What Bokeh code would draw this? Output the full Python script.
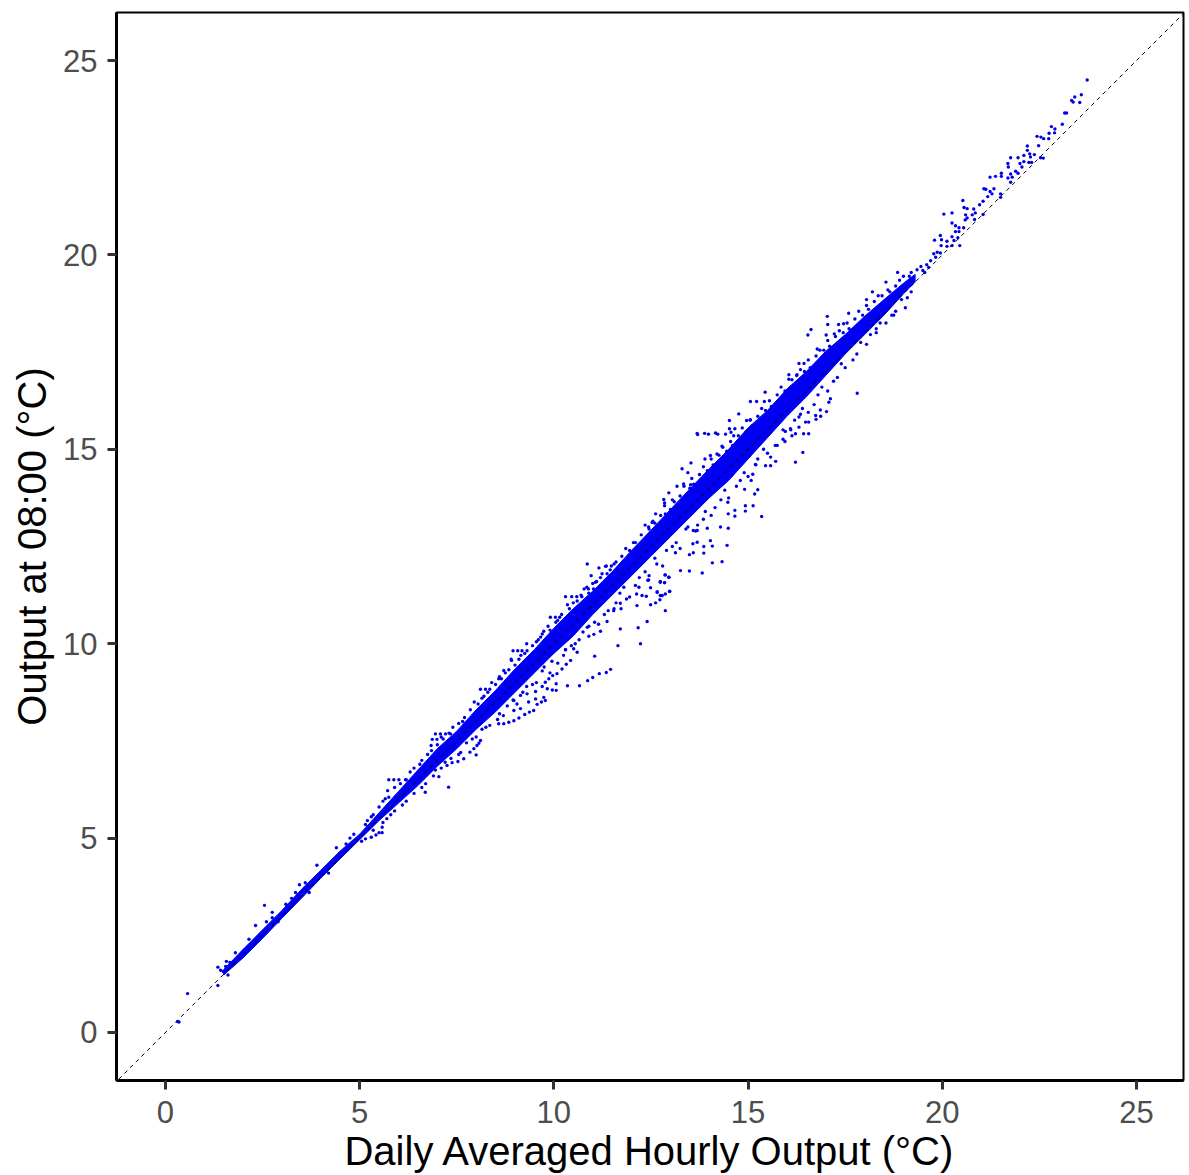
from bokeh.plotting import figure
from bokeh.embed import file_html
from bokeh.resources import INLINE
from bokeh.models import FixedTicker, Range1d

x_ticks = [0, 5, 10, 15, 20, 25]
y_ticks = [0, 5, 10, 15, 20, 25]
x_title = "Daily Averaged Hourly Output (°C)"
y_title = "Output at 08:00 (°C)"
ref_line = [-1.2, 26.2]

# Outline of the solid, overplotted core of the cloud
core_upper = [(1.5,1.62),(2,2.14),(2.5,2.64),(3,3.14),(3.5,3.68),(4,4.17),(4.5,4.67),(5,5.1),(5.5,5.65),(6,6.2),(6.5,6.75),(7,7.3),(7.5,7.75),(8,8.3),(8.5,8.8),(9,9.35),(9.5,9.85),(10,10.4),(10.5,10.9),(11,11.35),(11.5,11.85),(12,12.4),(12.5,12.92),(13,13.45),(13.5,13.98),(14,14.5),(14.5,15.0),(15,15.55),(15.5,16.0),(16,16.55),(16.5,17.0),(17,17.52),(17.5,17.95),(18,18.42),(18.5,18.85),(19,19.27),(19.3,19.5)]
core_lower = [(19.3,19.3),(19,19.0),(18.5,18.45),(18,17.95),(17.5,17.45),(17,16.9),(16.5,16.35),(16,15.85),(15.5,15.3),(15,14.75),(14.5,14.2),(14,13.75),(13.5,13.25),(13,12.75),(12.5,12.25),(12,11.75),(11.5,11.25),(11,10.75),(10.5,10.2),(10,9.75),(9.5,9.25),(9,8.75),(8.5,8.25),(8,7.8),(7.5,7.3),(7,6.85),(6.5,6.35),(6,5.9),(5.5,5.45),(5,4.96),(4.5,4.47),(4,3.97),(3.5,3.45),(3,2.94),(2.5,2.42),(2,1.92),(1.5,1.48)]

low_pts = [(.57,1.0),(.31,.28),(.35,.27),(1.35,1.21),(1.61,1.48),(1.35,1.68),(1.42,1.6),(1.49,1.57),(1.57,1.83),(1.66,1.8),(1.55,1.7),(2.55,3.27),(2.75,3.09),(2.32,2.75),(1.8,2.05),(2.15,2.4),(2.6,2.85),(3.1,3.3),(3.45,3.8),(3.9,4.3),(4.4,4.75),(5.05,4.92),(5.15,4.98),(5.3,5.02),(5.42,5.08),(5.5,5.14),(5.58,5.28),(5.58,5.14),(5.7,5.5),(2.9,2.85),(3.7,3.6),(4.2,4.1),(3.25,3.45),(3.35,3.6),(3.6,3.85),(4.75,5.0),(4.85,5.1),(4.65,4.85),(5.3,5.55),(2.75,2.95)]

streak_pts = [(5.75,6.5),(5.88,6.5),(6.01,6.5),(6.18,6.5),(5.72,6.22),(5.66,6.01),(6.95,7.68),(7.08,7.68),(7.21,7.68),(7.34,7.68),(6.87,7.54),(6.99,7.54),(6.84,7.38),(8.11,8.83),(8.24,8.83),(8.35,8.83),(8.58,9.1),(8.71,9.31),(8.84,9.33),(8.91,9.57),(8.95,9.82),(9.07,9.82),(9.18,9.82),(9.31,9.82),(9.66,10.17),(9.74,10.32),(9.91,10.68),(10.04,10.68),(10.15,10.68),(10.3,11.21),(10.46,11.21),(10.59,11.21),(10.72,11.21),(10.78,11.41),(10.89,11.41),(11.02,11.41),(10.86,12.05),(11.16,11.95),(11.33,11.99),(11.48,12.0),(10.96,11.75),(11.07,11.58),(11.24,11.8),(11.37,11.8)]

arc_pts = [(7.29,6.31),(7.04,6.58),(6.69,6.18),(8.0,7.14),(7.84,7.21),(7.94,7.3),(7.68,7.04),(7.53,6.97),(7.38,6.94),(7.25,6.87),(8.11,7.51),(8.07,7.44),(8.02,7.38),(8.58,7.94),(8.71,7.94),(8.84,7.98),(8.97,8.02),(9.1,8.09),(9.25,8.18),(9.37,8.24),(9.48,8.28),(9.57,8.44),(9.68,8.5),(9.78,8.54),(8.97,8.28),(9.14,8.33),(9.35,8.5),(9.53,8.58),(9.31,8.71),(9.14,8.67),(8.97,8.54),(9.53,8.77),(9.74,8.62),(9.83,8.84),(10.06,8.97),(10.06,8.8),(9.96,8.81),(9.7,8.9),(9.78,9.01),(9.87,9.1),(9.97,9.18),(10.08,9.23),(10.21,9.35),(10.32,9.47),(10.43,9.57),(11.05,9.68),(11.65,9.95),(10.35,8.92),(10.66,8.92),(10.87,9.05),(11.0,9.13),(11.17,9.23),(11.35,9.26),(11.46,9.34),(12.23,10.0),(12.17,10.41),(11.71,10.38),(12.4,10.57),(11.37,10.57),(10.86,10.42),(11.03,10.24),(11.2,10.32),(10.9,10.19),(10.6,9.78),(10.51,9.87),(10.3,9.84),(12.87,10.85),(12.49,11.0),(12.62,11.05),(12.73,11.13),(12.14,10.98),(12.13,11.28),(12.27,11.24),(12.38,11.22),(12.66,11.32),(12.79,11.24),(12.98,11.35),(12.87,11.77),(12.96,11.71),(12.74,11.58),(12.85,11.57),(12.44,11.64),(12.19,11.45),(11.87,11.15),(11.71,11.04),(11.54,10.85),(11.73,10.9)]

mid_pts = [(19.05,18.64),(17.04,18.42),(17.05,18.21),(16.62,18.08),(16.54,17.94),(17.01,17.94),(17.59,18.5),(17.46,18.23),(17.33,18.21),(17.22,17.97),(16.78,17.58),(16.31,17.21),(16.44,17.21),(16.05,16.92),(16.26,16.92),(16.13,16.79),(15.44,16.47),(15.06,16.23),(15.22,16.23),(15.42,16.23),(14.76,15.91),(14.52,15.74),(14.96,15.74),(15.06,15.76),(13.69,15.41),(13.7,15.38),(13.88,15.41),(13.98,15.39),(14.16,15.42),(14.22,15.39),(14.42,15.39),(14.52,15.53),(14.66,15.53),(14.56,15.44),(14.63,15.35),(17.81,16.44),(17.12,16.3),(17.08,16.21),(16.86,16.01),(17.02,15.97),(16.74,15.87),(16.87,15.85),(16.75,15.77),(16.56,15.7),(16.48,15.7),(16.31,15.83),(16.56,15.4),(16.43,15.4),(16.22,15.4),(16.13,15.35),(16.31,15.57),(16.09,15.53),(15.9,15.26),(15.96,15.46),(16.41,14.92),(16.22,14.67),(15.71,14.69),(15.58,14.8),(15.45,14.58),(15.58,14.58),(15.19,14.61),(15.12,14.36),(15.08,14.2),(15.25,13.96),(15.17,13.85),(14.91,13.97),(15.13,13.55),(14.93,13.55),(14.93,13.41),(14.66,13.43),(14.66,13.28),(15.35,13.27),(14.49,13.34),(14.49,12.97),(14.29,13.0),(14.48,13.64),(14.46,12.53),(14.03,12.65),(14.08,12.51),(13.86,12.5),(13.69,12.61),(13.58,12.57),(13.86,12.33),(13.59,12.34),(13.49,12.29),(14.33,12.11),(14.08,12.08),(13.82,11.82),(13.49,11.87),(13.26,11.88),(13.13,12.34),(13.95,12.97),(13.69,12.91),(13.59,12.91),(12.96,11.71),(12.86,11.77),(12.74,11.6),(12.85,11.57),(12.98,11.34),(12.87,11.28),(12.66,11.34),(12.74,11.24),(12.49,11.44),(12.42,11.63),(13.3,14.5),(13.53,14.65),(13.45,14.4),(12.96,13.88),(13.17,14.05),(13.34,14.11),(13.52,14.09),(12.83,13.71),(12.85,13.62),(12.62,13.34),(12.87,13.34),(12.53,13.12),(12.74,13.12),(12.44,13.0),(14.03,14.84),(14.2,14.88),(13.89,14.75),(14.33,15.08)]

top_pts = [(23.73,24.5),(23.58,24.12),(23.41,24.06),(23.33,23.97),(23.37,23.93),(23.54,23.92),(23.15,23.65),(23.2,23.65),(23.09,23.36),(22.81,23.3),(22.9,23.24),(22.89,23.14),(22.75,23.13),(22.44,23.05),(22.54,23.03),(22.61,22.99),(22.74,22.99),(22.48,22.81),(22.19,22.8),(22.19,22.69),(21.76,22.5),(21.95,22.5),(22.1,22.56),(22.25,22.6),(22.37,22.58),(22.27,22.52),(22.53,22.5),(22.6,22.49),(22.0,22.35),(22.1,22.4),(22.23,22.38),(22.3,22.38),(22.05,22.26),(21.69,22.35),(21.7,22.26),(21.52,22.1),(21.52,22.02),(21.37,22.02),(21.23,22.0),(21.76,22.08),(21.89,22.15),(21.95,22.1),(21.69,21.98),(21.8,22.0),(21.76,21.87),(21.07,21.7),(21.12,21.69),(21.33,21.7),(21.23,21.63),(21.28,21.57),(21.17,21.5),(21.5,21.57),(21.5,21.48),(20.53,21.4),(21.05,21.38),(20.96,21.29),(20.56,21.22),(20.64,21.19),(20.81,21.18),(20.04,21.05),(20.25,21.08),(20.77,21.03),(20.85,21.08),(20.6,21.03),(21.05,21.04),(20.59,20.9),(20.64,20.95),(20.83,20.91),(20.25,20.82),(20.34,20.75),(20.43,20.7),(20.55,20.7),(20.43,20.6),(20.34,20.6),(19.95,20.5),(19.8,20.38),(19.98,20.39),(20.25,20.47),(20.4,20.44),(20.12,20.35),(20.3,20.37),(20.45,20.24),(19.97,20.24),(20.12,20.22),(20.25,20.24),(19.87,20.07),(19.78,20.03),(19.95,20.05),(19.83,19.94),(19.5,19.6),(19.6,19.75),(19.7,19.85),(19.45,19.7),(19.35,19.62),(19.55,19.55),(19.65,19.68),(18.85,19.55),(18.55,19.3),(18.2,19.05),(18.05,18.85),(18.75,18.45),(18.3,18.0),(19.2,19.05)]

# Ragged fringe that hugs the core
fringe_pts = [(5.2,5.45),(5.6,5.95),(5.9,6.3),(6.3,6.7),(6.6,7.0),(6.85,7.25),(7.15,7.55),(7.4,7.85),(7.7,8.1),(7.95,8.5),(8.2,8.65),(8.4,9.0),(8.65,9.1),(8.9,9.6),(9.1,9.6),(9.3,10.0),(9.6,10.1),(9.85,10.45),(10.1,10.6),(10.35,11.0),(10.6,11.1),(10.85,11.45),(11.1,11.6),(11.35,12.0),(11.6,12.1),(11.85,12.45),(12.1,12.6),(12.35,13.05),(12.6,13.1),(12.85,13.55),(13.1,13.65),(13.35,14.05),(13.6,14.1),(13.85,14.55),(14.1,14.6),(14.35,15.05),(14.6,15.1),(14.85,15.55),(15.1,15.6),(15.35,16.05),(15.6,16.1),(15.85,16.6),(16.1,16.6),(16.35,17.05),(16.6,17.1),(16.85,17.55),(17.1,17.65),(17.35,18.05),(17.6,18.1),(17.85,18.55),(18.1,18.6),(18.35,18.95),(18.65,19.05),(18.9,19.35),(19.15,19.45),
(5.8,5.6),(6.2,5.95),(6.6,6.3),(6.9,6.6),(7.2,6.95),(7.6,7.2),(7.9,7.55),(8.25,7.85),(8.55,8.05),(8.8,8.4),(9.2,8.75),(9.45,8.95),(9.7,9.3),(9.95,9.55),(10.25,9.7),(10.55,10.0),(10.75,10.3),(11.05,10.55),(11.3,10.75),(11.6,11.05),(11.8,11.45),(12.1,11.5),(12.35,11.85),(12.65,12.05),(12.9,12.4),(13.15,12.6),(13.4,12.95),(13.7,13.05),(13.9,13.4),(14.15,13.5),(14.4,13.95),(14.7,14.05),(14.9,14.4),(15.2,14.6),(15.4,15.0),(15.7,15.1),(15.9,15.5),(16.2,15.75),(16.4,16.05),(16.7,16.15),(16.9,16.6),(17.2,16.75),(17.4,17.2),(17.7,17.3),(17.9,17.75),(18.15,17.95),(18.4,18.25),(18.7,18.45),(18.95,18.85)]

fringe_upper = [(5.15,5.35),(5.35,5.6),(5.5,5.8),(5.75,6.05),(6.05,6.4),(6.2,6.5),(6.4,6.8),(6.55,6.9),(6.75,7.15),(7.0,7.4),(7.1,7.6),(7.3,7.7),(7.55,7.95),(7.65,8.0),(7.85,8.3),(8.05,8.45),(8.15,8.6),(8.3,8.75),(8.5,8.95),(8.6,9.15),(8.75,9.25),(9.0,9.45),(9.15,9.7),(9.25,9.75),(9.45,9.95),(9.55,10.05),(9.7,10.25),(9.9,10.35),(10.05,10.55),(10.2,10.75),(10.4,10.9),(10.5,11.05),(10.7,11.25),(10.9,11.3),(11.0,11.55),(11.2,11.7),(11.45,11.9),(11.55,12.05),(11.75,12.25),(11.95,12.4),(12.05,12.6),(12.25,12.8),(12.45,12.95),(12.55,13.15),(12.75,13.3),(13.0,13.45),(13.05,13.7),(13.25,13.8),(13.5,14.0),(13.55,14.25),(13.75,14.35),(13.95,14.45),(14.05,14.75),(14.25,14.85),(14.45,14.95),(14.55,15.2),(14.75,15.35),(14.95,15.45),(15.05,15.75),(15.25,15.85),(15.45,16.0),(15.55,16.25),(15.75,16.4),(15.95,16.5),(16.05,16.8),(16.25,16.9),(16.45,17.0),(16.55,17.3),(16.75,17.4),(16.95,17.55),(17.05,17.8),(17.25,17.9),(17.45,18.0),(17.55,18.25),(17.75,18.35),(17.95,18.45),(18.05,18.7),(18.25,18.8),(18.45,18.95),(18.6,19.1),(18.8,19.2),(19.0,19.45),(19.2,19.55)]

fringe_lower = [(5.35,5.2),(5.6,5.4),(5.9,5.7),(6.1,5.85),(6.4,6.15),(6.7,6.4),(6.95,6.75),(7.1,6.8),(7.35,7.05),(7.55,7.15),(7.75,7.45),(8.0,7.6),(8.15,7.8),(8.35,7.9),(8.6,8.2),(8.7,8.15),(8.95,8.55),(9.05,8.45),(9.3,8.9),(9.55,9.0),(9.75,9.4),(9.9,9.25),(10.1,9.5),(10.3,9.85),(10.45,9.95),(10.65,10.1),(10.9,10.45),(11.15,10.5),(11.4,10.85),(11.55,10.9),(11.7,11.3),(11.95,11.2),(12.2,11.7),(12.45,11.75),(12.6,12.2),(12.8,12.0),(13.05,12.5),(13.25,12.45),(13.45,13.0),(13.65,12.9),(13.85,13.2),(14.05,13.3),(14.3,13.7),(14.5,13.75),(14.8,14.2),(15.0,14.3),(15.25,14.75),(15.5,14.9),(15.75,15.1),(15.95,15.2),(16.1,15.5),(16.35,15.9),(16.55,15.95),(16.8,16.4),(17.05,16.5),(17.3,16.85),(17.5,17.1),(17.8,17.45),(18.05,17.7),(18.3,18.1),(18.55,18.25),(18.8,18.55),(19.1,18.9)]

W, H = 1189, 1175
p = figure(width=W, height=H, output_backend="svg", toolbar_location=None,
           x_range=Range1d(-1.26, 26.21), y_range=Range1d(-1.235, 26.235),
           min_border_left=116, min_border_right=6, min_border_top=12, min_border_bottom=95,
           background_fill_color="white", border_fill_color="white")
p.grid.visible = False
p.outline_line_color = "black"
p.outline_line_width = 2

core = core_upper + core_lower
p.patch([c[0] for c in core], [c[1] for c in core], fill_color="#0000f5", line_color="#0000f5", line_width=1)
all_pts = low_pts + streak_pts + arc_pts + mid_pts + top_pts + fringe_pts + fringe_upper + fringe_lower
p.scatter([c[0] for c in all_pts], [c[1] for c in all_pts], size=3.4, marker="circle",
          fill_color="#0000e6", line_color=None)
p.line(ref_line, ref_line, line_color="black", line_width=1, line_dash="4 4")

for ax, ticks, title in ((p.xaxis[0], x_ticks, x_title), (p.yaxis[0], y_ticks, y_title)):
    ax.ticker = FixedTicker(ticks=ticks)
    ax.axis_label = title
    ax.axis_label_text_font = "Liberation Sans"
    ax.axis_label_text_font_style = "normal"
    ax.axis_label_text_font_size = "40px"
    ax.axis_label_text_color = "black"
    ax.major_label_text_font = "Liberation Sans"
    ax.major_label_text_font_size = "31px"
    ax.major_label_text_color = "#4d4d4d"
    ax.axis_line_color = "black"
    ax.axis_line_width = 3
    ax.major_tick_line_color = "#333333"
    ax.major_tick_line_width = 3
    ax.major_tick_in = 0
    ax.major_tick_out = 9
    ax.minor_tick_line_color = None
p.xaxis[0].major_label_standoff = 11
p.yaxis[0].major_label_standoff = 10
p.xaxis[0].axis_label_standoff = 3
p.yaxis[0].axis_label_standoff = 6

open("out.html", "w").write(file_html(p, INLINE))
